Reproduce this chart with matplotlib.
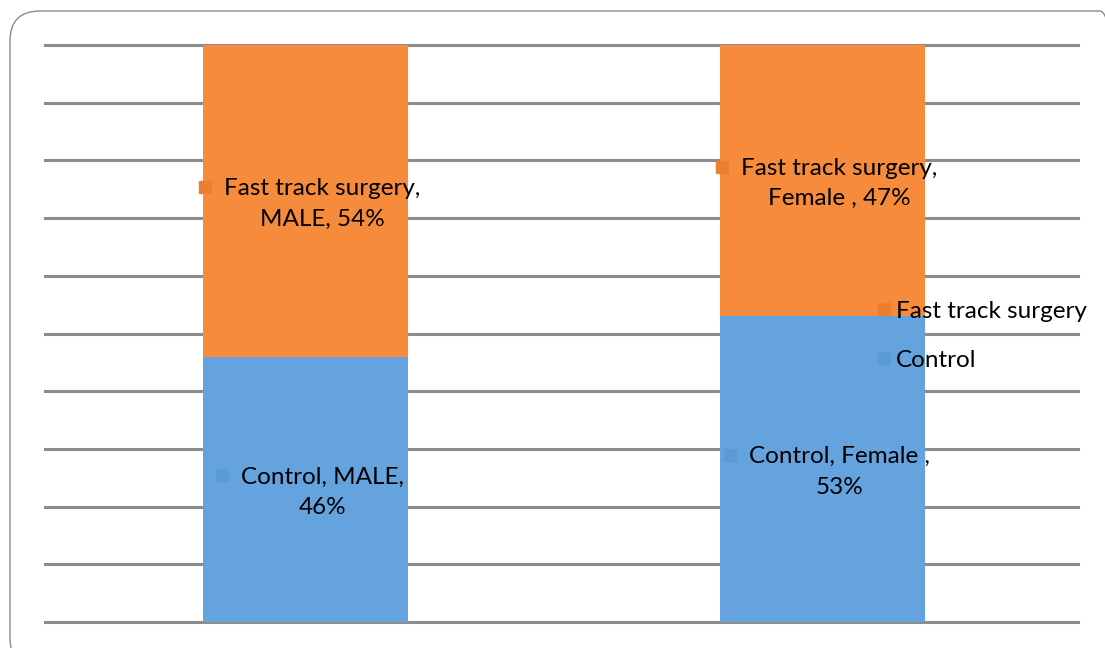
import numpy as np
import matplotlib.pyplot as plt
from matplotlib.patches import FancyBboxPatch
from matplotlib.lines import Line2D
from matplotlib.transforms import IdentityTransform

plt.rcParams['font.family'] = ['Lato', 'DejaVu Sans']

categories = ['MALE', 'Female ']
series = ['Control', 'Fast track surgery']
control = [0.46, 0.53]
fast_track = [0.54, 0.47]
label_text = {
    'Control': ['Control, MALE,\n46%', 'Control, Female ,\n53%'],
    'Fast track surgery': ['Fast track surgery,\nMALE, 54%', 'Fast track surgery,\nFemale , 47%'],
}

bar_colors = {'Control': '#65A3DF', 'Fast track surgery': '#F68B3B'}
mark_colors = {'Control': '#5B9BD5', 'Fast track surgery': '#ED7D31'}

fig = plt.figure(figsize=(11.05, 6.48), dpi=100)
ax = fig.add_axes([45/1105, 1-622/648, (1078-45)/1105, (622-45)/648])

x = np.arange(len(categories))
w = 0.397
ax.bar(x, control, w, color=bar_colors['Control'], zorder=3)
ax.bar(x, fast_track, w, bottom=control, color=bar_colors['Fast track surgery'], zorder=3)

ax.set_xlim(-0.504, 1.494)
ax.set_ylim(0, 1)
ax.set_yticks(np.arange(0, 1.01, 0.1))
ax.yaxis.grid(True, color='#8c8c8c', linewidth=2.2, zorder=0)
for gl in ax.get_ygridlines():
    gl.set_clip_on(False)
ax.tick_params(left=False, bottom=False, labelleft=False, labelbottom=False)
for s in ax.spines.values():
    s.set_visible(False)

fs = 17.5
fig.canvas.draw()
r = fig.canvas.get_renderer()
px = 1.0 / 517  # data units per pixel in x
for name, bottoms, vals in [('Control', [0, 0], control),
                            ('Fast track surgery', control, fast_track)]:
    for i in range(len(categories)):
        txt = label_text[name][i]
        first = txt.split('\n')[0]
        tmp = ax.text(0, 0, first, fontsize=fs)
        lw = tmp.get_window_extent(r).width
        tmp.remove()
        cx = x[i] + 17 * px
        cy = bottoms[i] + vals[i] / 2 - 0.005
        ax.text(cx, cy, txt, fontsize=fs, ha='center', va='center',
                multialignment='center', linespacing=1.55, zorder=5)
        ax.plot(cx - lw / 2 * px - 19 * px, cy + 0.029, 's', ms=8,
                color=mark_colors[name], zorder=5)

handles = [Line2D([], [], ls='', marker='s', ms=8, color=mark_colors[s]) for s in series[::-1]]
fig.legend(handles, series[::-1], loc='upper left', bbox_to_anchor=(868/1105, 1-291/648),
           frameon=False, fontsize=fs, handlelength=0.5, handletextpad=0.25,
           labelspacing=1.15, borderaxespad=0)

box = FancyBboxPatch((10, -20), 1120, 648 - 11 + 20, boxstyle='round,pad=0,rounding_size=30',
                     transform=IdentityTransform(), fill=False, edgecolor='#8a8a8a', linewidth=1)
fig.patches.append(box)

fig.savefig('out.png', dpi=100)
